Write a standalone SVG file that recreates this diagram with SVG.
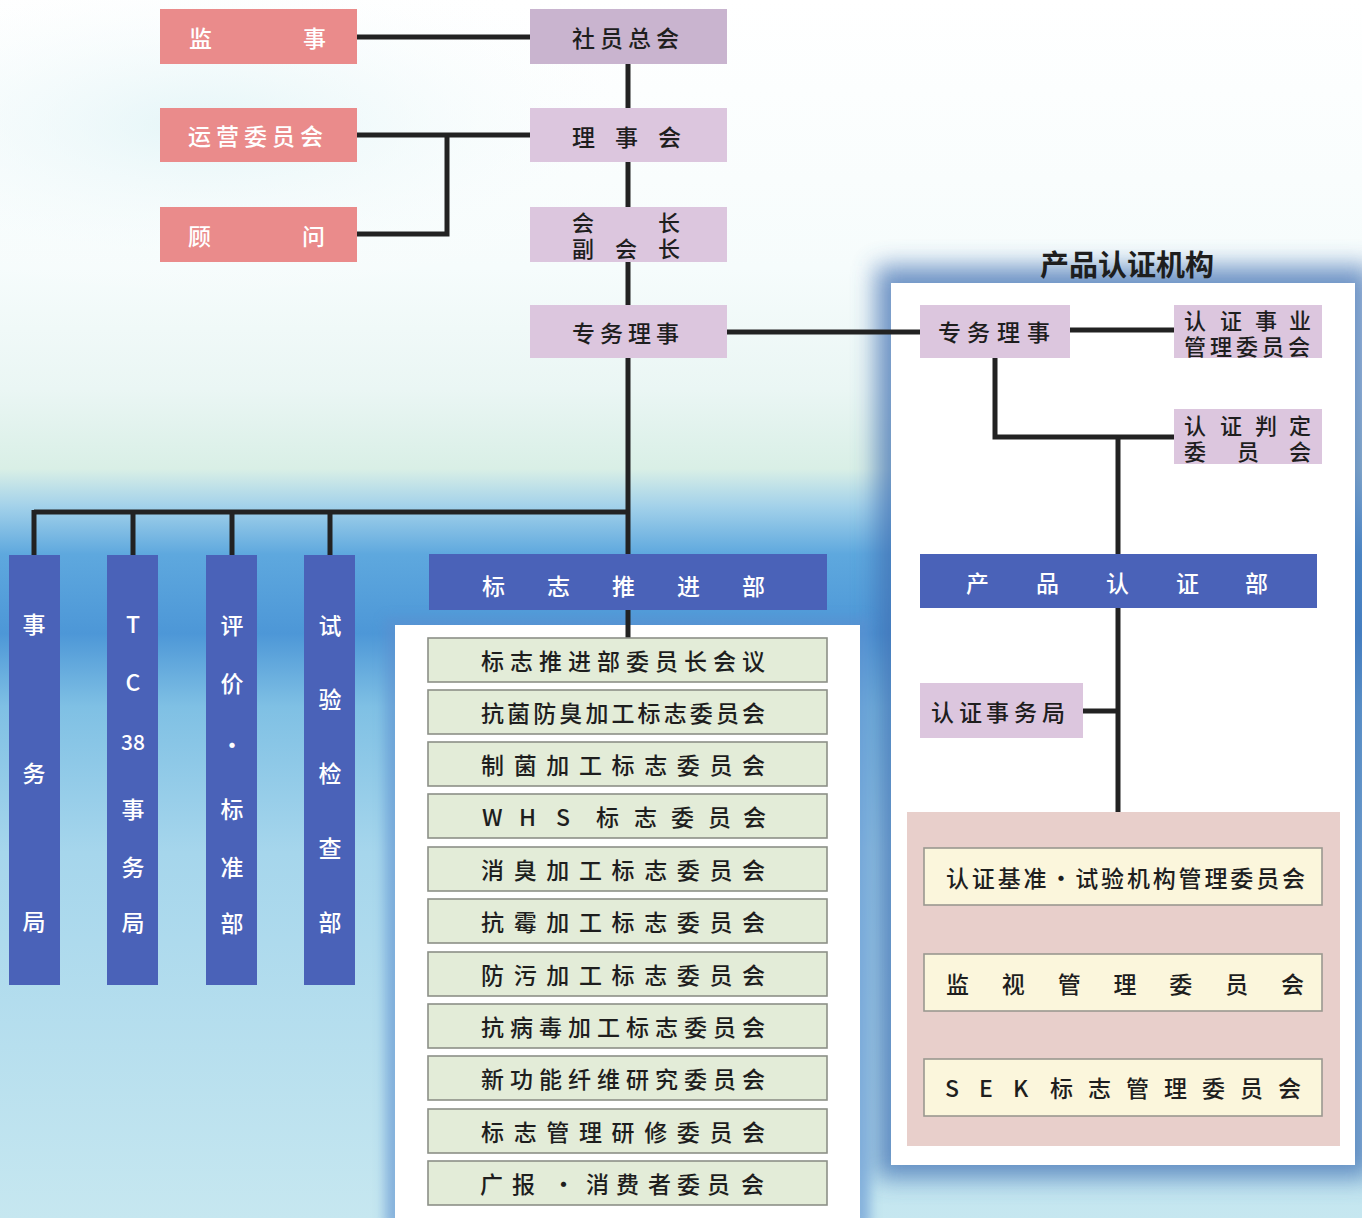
<svg xmlns="http://www.w3.org/2000/svg" width="1362" height="1218" viewBox="0 0 1362 1218">
<style>
text{font-family:"Noto Sans CJK SC","Noto Sans",sans-serif;font-size:23px;dominant-baseline:central;font-weight:500}
.dk{fill:#1e1e1e}
.wt{fill:#ffffff}
.salmon{fill:#ea8b8b}
.mauve{fill:#c9b4cf}
.lav{fill:#dcc6de}
.blue{fill:#4a62b8}
.green{fill:#e3ecd8;stroke:#8c9088;stroke-width:1.6}
.cream{fill:#fbf6dc;stroke:#9a9890;stroke-width:1.6}
.ln{stroke:#222;stroke-width:5;fill:none}
.two{font-size:22px}
</style>
<defs>
<linearGradient id="bg" x1="0" y1="0" x2="0" y2="1">
<stop offset="0" stop-color="#ffffff"/>
<stop offset="0.22" stop-color="#f6fcfc"/>
<stop offset="0.32" stop-color="#eaf6f4"/>
<stop offset="0.385" stop-color="#d9efe6"/>
<stop offset="0.415" stop-color="#a4d2ea"/>
<stop offset="0.455" stop-color="#5ea8de"/>
<stop offset="0.52" stop-color="#4d97d7"/>
<stop offset="0.58" stop-color="#7fc0e4"/>
<stop offset="0.7" stop-color="#a6d6ec"/>
<stop offset="1" stop-color="#c6e7f0"/>
</linearGradient>
<radialGradient id="glow" cx="0.15" cy="0.25" r="0.35">
<stop offset="0" stop-color="#dff3f6" stop-opacity="0.8"/>
<stop offset="1" stop-color="#ffffff" stop-opacity="0"/>
</radialGradient>
<filter id="blur" x="-10%" y="-10%" width="120%" height="120%"><feGaussianBlur stdDeviation="12"/></filter>
<filter id="blur2" x="-10%" y="-10%" width="120%" height="120%"><feGaussianBlur stdDeviation="6"/></filter>
</defs>
<rect x="0" y="0" width="1362" height="1218" fill="url(#bg)"/>
<rect x="0" y="0" width="1362" height="500" fill="url(#glow)"/>
<!-- panels -->
<rect x="876" y="266" width="496" height="912" fill="#3f6fb3" filter="url(#blur)" opacity="0.75"/>
<rect x="891" y="283" width="464" height="882" fill="#ffffff"/>
<rect x="385" y="618" width="485" height="610" fill="#5b8fcf" filter="url(#blur2)" opacity="0.6"/>
<rect x="395" y="625" width="465" height="593" fill="#ffffff"/>
<text x="1127" y="263" class="dk" style="font-size:29px;font-weight:bold;text-anchor:middle">产品认证机构</text>
<rect x="907" y="812" width="433" height="334" fill="#e8cfcb"/>

<g id="connectors">
<path class="ln" d="M357 37H530"/>
<path class="ln" d="M357 135H530M447 135V234H357"/>
<path class="ln" d="M628 64V108M628 162V207M628 262V305M628 358V638"/>
<path class="ln" d="M34 512H628M34 510V555M133 512V555M232 512V555M330 512V555"/>
<path class="ln" d="M727 332H920"/>
<path class="ln" d="M1070 330H1174"/>
<path class="ln" d="M995 358V437H1174M1118 437V555M1118 608V812M1083 711H1118"/>
</g>

<g id="n-jianshi"><rect class="salmon" x="160" y="9" width="197" height="55"/><text class="wt" x="189 303" y="37">监事</text></g>
<g id="n-yunying"><rect class="salmon" x="160" y="108" width="197" height="54"/><text class="wt" x="188 216 244 272 300" y="135">运营委员会</text></g>
<g id="n-guwen"><rect class="salmon" x="160" y="207" width="197" height="55"/><text class="wt" x="188 302" y="235">顾问</text></g>

<g id="n-sheyuan"><rect class="mauve" x="530" y="9" width="197" height="55"/><text class="dk" x="572 600 628 656" y="37">社员总会</text></g>
<g id="n-lishihui"><rect class="lav" x="530" y="108" width="197" height="54"/><text class="dk" x="572 615 658" y="136">理事会</text></g>
<g id="n-huizhang"><rect class="lav" x="530" y="207" width="197" height="55"/><text class="dk two"><tspan x="572 658" y="221">会长</tspan><tspan x="572 615 658" y="247">副会长</tspan></text></g>
<g id="n-zhuanwu"><rect class="lav" x="530" y="305" width="197" height="53"/><text class="dk" x="572 600 628 656" y="332">专务理事</text></g>

<g id="n-shiwuju"><rect class="blue" x="9" y="555" width="51" height="430"/><text class="wt" x="34" y="623" style="text-anchor:middle">事</text><text class="wt" x="34" y="772" style="text-anchor:middle">务</text><text class="wt" x="34" y="920" style="text-anchor:middle">局</text></g>
<g id="n-tc38"><rect class="blue" x="107" y="555" width="51" height="430"/><text class="wt" x="133" y="623" style="text-anchor:middle">T</text><text class="wt" x="133" y="681" style="text-anchor:middle">C</text><text class="wt" x="133" y="741" style="text-anchor:middle;font-size:21px">38</text><text class="wt" x="133" y="808" style="text-anchor:middle">事</text><text class="wt" x="133" y="866" style="text-anchor:middle">务</text><text class="wt" x="133" y="921" style="text-anchor:middle">局</text></g>
<g id="n-pingjia"><rect class="blue" x="206" y="555" width="51" height="430"/><text class="wt" x="232" y="624" style="text-anchor:middle">评</text><text class="wt" x="232" y="682" style="text-anchor:middle">价</text><text class="wt" x="232" y="744" style="text-anchor:middle">·</text><text class="wt" x="232" y="808" style="text-anchor:middle">标</text><text class="wt" x="232" y="866" style="text-anchor:middle">准</text><text class="wt" x="232" y="922" style="text-anchor:middle">部</text></g>
<g id="n-shiyan"><rect class="blue" x="304" y="555" width="51" height="430"/><text class="wt" x="330" y="624" style="text-anchor:middle">试</text><text class="wt" x="330" y="698" style="text-anchor:middle">验</text><text class="wt" x="330" y="772" style="text-anchor:middle">检</text><text class="wt" x="330" y="847" style="text-anchor:middle">查</text><text class="wt" x="330" y="921" style="text-anchor:middle">部</text></g>

<g id="n-biaozhi"><rect class="blue" x="429" y="554" width="398" height="56"/><text class="wt" x="482 547 612 677 742" y="585">标志推进部</text></g>

<g id="n-g1"><rect class="green" x="428" y="638" width="399" height="44"/><text class="dk" x="481" y="660" textLength="284" lengthAdjust="spacing">标志推进部委员长会议</text></g>
<g id="n-g2"><rect class="green" x="428" y="690" width="399" height="44"/><text class="dk" x="481" y="712" textLength="284" lengthAdjust="spacing">抗菌防臭加工标志委员会</text></g>
<g id="n-g3"><rect class="green" x="428" y="742" width="399" height="44"/><text class="dk" x="481" y="764" textLength="284" lengthAdjust="spacing">制菌加工标志委员会</text></g>
<g id="n-g4"><rect class="green" x="428" y="794" width="399" height="44"/><text class="dk" x="482 519 556 596 634 671 708 743" y="816">WHS标志委员会</text></g>
<g id="n-g5"><rect class="green" x="428" y="847" width="399" height="44"/><text class="dk" x="481" y="869" textLength="284" lengthAdjust="spacing">消臭加工标志委员会</text></g>
<g id="n-g6"><rect class="green" x="428" y="899" width="399" height="44"/><text class="dk" x="481" y="921" textLength="284" lengthAdjust="spacing">抗霉加工标志委员会</text></g>
<g id="n-g7"><rect class="green" x="428" y="952" width="399" height="44"/><text class="dk" x="481" y="974" textLength="284" lengthAdjust="spacing">防污加工标志委员会</text></g>
<g id="n-g8"><rect class="green" x="428" y="1004" width="399" height="44"/><text class="dk" x="481" y="1026" textLength="284" lengthAdjust="spacing">抗病毒加工标志委员会</text></g>
<g id="n-g9"><rect class="green" x="428" y="1056" width="399" height="44"/><text class="dk" x="481" y="1078" textLength="284" lengthAdjust="spacing">新功能纤维研究委员会</text></g>
<g id="n-g10"><rect class="green" x="428" y="1109" width="399" height="44"/><text class="dk" x="481" y="1131" textLength="284" lengthAdjust="spacing">标志管理研修委员会</text></g>
<g id="n-g11"><rect class="green" x="428" y="1161" width="399" height="44"/><text class="dk" x="480 512 552 586 616 648 677 707 741" y="1183">广报·消费者委员会</text></g>

<g id="n-zhuanwu2"><rect class="lav" x="920" y="305" width="150" height="53"/><text class="dk" x="938 967 997 1027" y="331">专务理事</text></g>
<g id="n-shiye"><rect class="lav" x="1174" y="305" width="148" height="53"/><text class="dk two"><tspan x="1184 1220 1255 1289" y="319">认证事业</tspan><tspan x="1184 1210 1236 1262 1288" y="345">管理委员会</tspan></text></g>
<g id="n-panding"><rect class="lav" x="1174" y="409" width="148" height="55"/><text class="dk two"><tspan x="1184 1220 1255 1289" y="424">认证判定</tspan><tspan x="1184 1237 1289" y="450">委员会</tspan></text></g>
<g id="n-chanpin"><rect class="blue" x="920" y="554" width="397" height="54"/><text class="wt" x="966 1036 1106 1176 1245" y="582">产品认证部</text></g>
<g id="n-renzhengju"><rect class="lav" x="920" y="683" width="163" height="55"/><text class="dk" x="931 959 986 1014 1042" y="711">认证事务局</text></g>
<g id="n-c1"><rect class="cream" x="924" y="848" width="398" height="57"/><text class="dk" x="946" y="877" textLength="359" lengthAdjust="spacing">认证基准·试验机构管理委员会</text></g>
<g id="n-c2"><rect class="cream" x="924" y="954" width="398" height="57"/><text class="dk" x="946" y="983" textLength="358" lengthAdjust="spacing">监视管理委员会</text></g>
<g id="n-c3"><rect class="cream" x="924" y="1059" width="398" height="57"/><text class="dk" x="945 979 1013 1050 1088 1126 1164 1202 1240 1278" y="1087">SEK标志管理委员会</text></g>
</svg>
